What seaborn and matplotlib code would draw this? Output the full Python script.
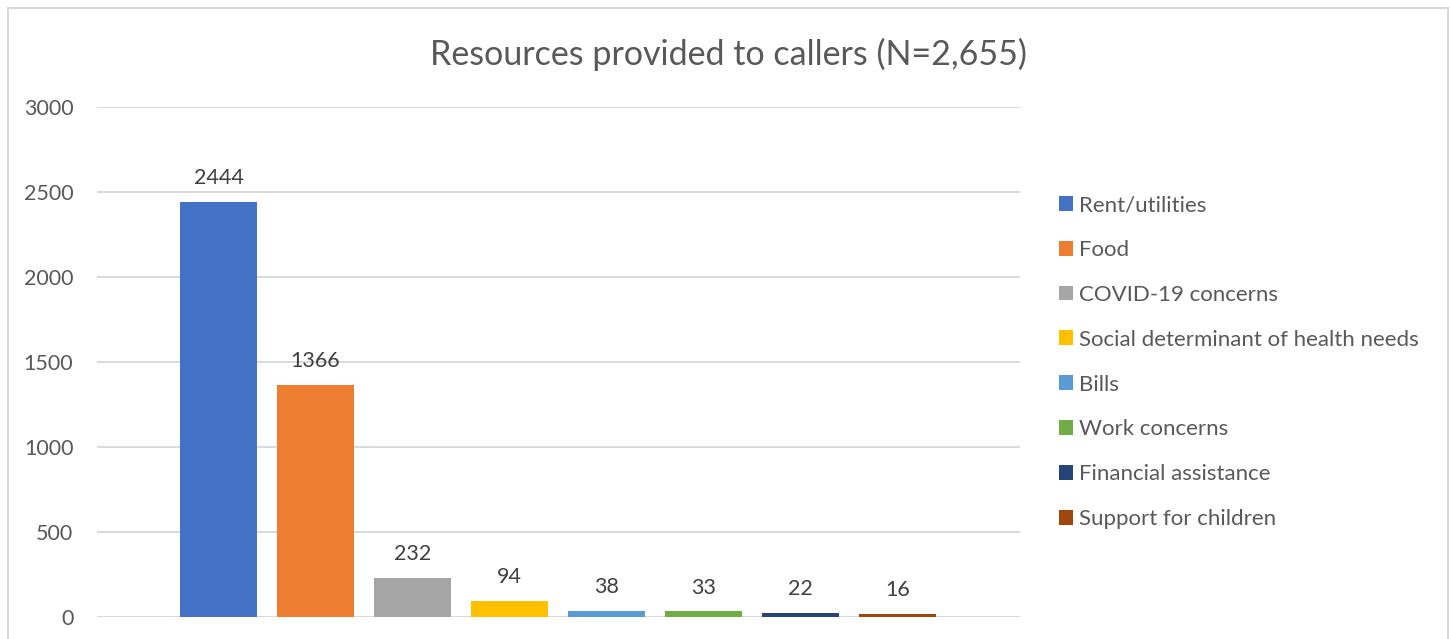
import matplotlib
matplotlib.use("Agg")
import matplotlib.pyplot as plt
import seaborn as sns
import pandas as pd
from matplotlib.patches import Rectangle

categories = ["Rent/utilities", "Food", "COVID-19 concerns",
              "Social determinant of health needs", "Bills",
              "Work concerns", "Financial assistance", "Support for children"]
values = [2444, 1366, 232, 94, 38, 33, 22, 16]
colors = ["#4472C4", "#ED7D31", "#A5A5A5", "#FFC000",
          "#5B9BD5", "#70AD47", "#264478", "#9E480E"]
yticks = [0, 500, 1000, 1500, 2000, 2500, 3000]
title = "Resources provided to callers (N=2,655)"

sns.set_theme(style="white")
plt.rcParams["font.family"] = ["Lato", "DejaVu Sans"]
TXT = "#595959"
GRID = "#D9D9D9"

W, H = 1450, 639
fig = plt.figure(figsize=(W / 100, H / 100), dpi=100)
fig.patch.set_facecolor("white")
ax = fig.add_axes([97 / W, (H - 617) / H, (1020 - 97) / W, (617 - 107) / H])

df = pd.DataFrame({"category": categories, "value": values})
sns.barplot(data=df, x="category", y="value", hue="category",
            palette=colors, order=categories, hue_order=categories,
            width=0.794, saturation=1, dodge=False, legend=True, ax=ax,
            edgecolor="none", linewidth=0)

ax.set_ylim(0, 3000)
ax.set_xlim(-1.2526, 8.263)
ax.set_yticks(yticks)
ax.set_yticklabels([str(t) for t in yticks])
ax.set_xticks([])
ax.set_xlabel("")
ax.set_ylabel("")
ax.tick_params(axis="y", length=0, pad=17, labelsize=15.5, labelcolor=TXT)
ax.yaxis.grid(True, color=GRID, linewidth=1.4)
ax.set_axisbelow(True)
for s in ax.spines.values():
    s.set_visible(False)

for cont in ax.containers:
    ax.bar_label(cont, fmt="%d", padding=10, fontsize=15.5, color="#404040")

sns.move_legend(ax, loc="upper left", bbox_to_anchor=(1059 / W, (H - 195) / H),
                bbox_transform=fig.transFigure, frameon=False, title=None,
                fontsize=16, handlelength=0.65, handleheight=0.65,
                handletextpad=0.25, labelspacing=1.12, borderaxespad=0,
                borderpad=0)
for t in ax.get_legend().get_texts():
    t.set_color(TXT)

fig.text(728 / W, (H - 54) / H, title, ha="center", va="center",
         fontsize=24.5, color=TXT)

fig.patches.append(Rectangle((8 / W, -0.05), (1448 - 8) / W, (H - 8) / H + 0.05,
                             transform=fig.transFigure, fill=False,
                             edgecolor=GRID, linewidth=1.5))

fig.savefig("out.png", dpi=100)
